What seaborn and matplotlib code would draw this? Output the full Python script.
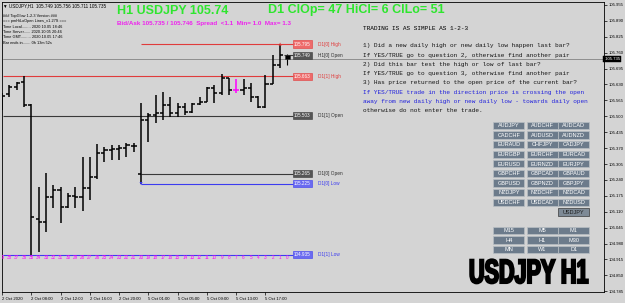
import numpy as np
import pandas as pd
import matplotlib
matplotlib.use("Agg")
import matplotlib.pyplot as plt
import seaborn as sns
from matplotlib.patches import Rectangle
from matplotlib.patheffects import AbstractPathEffect
from matplotlib.transforms import Affine2D

# ---------------- data ----------------
bar_index = list(range(39, -1, -1))
opens = [105.550, 105.591, 105.620, 105.640, 105.546, 105.080, 105.068, 105.170, 105.199, 105.129,
         105.174, 105.170, 105.207, 105.252, 105.350, 105.362, 105.366, 105.371, 105.379, 105.265,
         105.485, 105.505, 105.513, 105.546, 105.513, 105.538, 105.518, 105.550, 105.558, 105.616,
         105.595, 105.657, 105.608, 105.608, 105.616, 105.579, 105.538, 105.632, 105.710, 105.749]
highs = [105.595, 105.628, 105.640, 105.663, 105.550, 105.211, 105.268, 105.219, 105.211, 105.186,
         105.211, 105.334, 105.334, 105.387, 105.375, 105.383, 105.383, 105.391, 105.391, 105.554,
         105.513, 105.587, 105.599, 105.579, 105.554, 105.554, 105.554, 105.579, 105.620, 105.628,
         105.673, 105.657, 105.653, 105.653, 105.636, 105.583, 105.669, 105.751, 105.795, 105.756]
lows = [105.526, 105.579, 105.608, 105.538, 104.935, 104.945, 105.027, 105.125, 105.064, 105.125,
        105.125, 105.113, 105.158, 105.244, 105.313, 105.321, 105.321, 105.334, 105.354, 105.225,
        105.395, 105.473, 105.485, 105.497, 105.497, 105.505, 105.513, 105.546, 105.558, 105.554,
        105.587, 105.587, 105.595, 105.587, 105.558, 105.534, 105.534, 105.632, 105.697, 105.711]
closes = [105.583, 105.620, 105.636, 105.546, 105.088, 105.068, 105.170, 105.199, 105.129, 105.174,
          105.170, 105.207, 105.252, 105.350, 105.362, 105.366, 105.371, 105.383, 105.379, 105.485,
          105.505, 105.513, 105.546, 105.513, 105.538, 105.518, 105.550, 105.558, 105.616, 105.595,
          105.657, 105.608, 105.608, 105.616, 105.579, 105.538, 105.632, 105.710, 105.749, 105.735]
highlight_bar = 7

date_bars = [39, 35, 31, 27, 23, 19, 15, 11, 7, 3]
date_labels = ['2 Oct 2020', '2 Oct 08:00', '2 Oct 12:00', '2 Oct 16:00', '2 Oct 20:00',
               '5 Oct 01:00', '5 Oct 05:00', '5 Oct 09:00', '5 Oct 13:00', '5 Oct 17:00']

price_ticks = [105.955, 105.890, 105.825, 105.760, 105.695, 105.630, 105.565, 105.500, 105.435,
               105.370, 105.305, 105.240, 105.175, 105.110, 105.045, 104.980, 104.915, 104.850, 104.785]
bid_price = 105.735

level_names = ['D1[0] High', 'H1[0] Open', 'D1[1] High', 'D1[1] Open', 'D1[0] Open', 'D1[0] Low', 'D1[1] Low']
level_values = [105.795, 105.749, 105.663, 105.503, 105.265, 105.225, 104.935]
level_kinds = ['high', 'open', 'high', 'open', 'open', 'low', 'low']
level_start_bar = [20, 0, None, None, 20, 20, None]

header_line = '\u25bc USDJPY,H1  105.749 105.756 105.711 105.735'
info_lines = ['### TopGlow 1-2-3 Version ###',
              '=== pmHiLoOpen Lines_v1.27S ===',
              'Time Local........ 2020.10.05 18:46',
              'Time Server...... 2020.10.05 20:46',
              'Time GMT......... 2020.10.05 17:46',
              'Bar ends in....... 0h 13m 52s']
title_left = 'H1 USDJPY 105.74'
title_right = 'D1 ClOp= 47 HiCl= 6 ClLo= 51'
spread_line = 'Bid/Ask 105.735 / 105.746  Spread  <1.1  Min= 1.0  Max= 1.3'
rules_title = 'TRADING IS AS SIMPLE AS 1-2-3'
rules_lines = ['1) Did a new daily high or new daily low happen last bar?',
               'If YES/TRUE go to question 2, otherwise find another pair',
               '2) Did this bar test the high or low of last bar?',
               'If YES/TRUE go to question 3, otherwise find another pair',
               '3) Has price returned to the open price of the current bar?',
               'If YES/TRUE trade in the direction price is crossing the open',
               'away from new daily high or new daily low - towards daily open',
               'otherwise do not enter the trade.']
rules_blue = [False, False, False, False, False, True, True, False]

pair_buttons = [['AUDJPY', 'AUDCHF', 'AUDCAD'],
                ['CADCHF', 'AUDUSD', 'AUDNZD'],
                ['EURAUD', 'CHFJPY', 'CADJPY'],
                ['EURGBP', 'EURCHF', 'EURCAD'],
                ['EURUSD', 'EURNZD', 'EURJPY'],
                ['GBPCHF', 'GBPCAD', 'GBPAUD'],
                ['GBPUSD', 'GBPNZD', 'GBPJPY'],
                ['NZDJPY', 'NZDCHF', 'NZDCAD'],
                ['USDCHF', 'USDCAD', 'NZDUSD'],
                ['', '', 'USDJPY']]
tf_buttons = [['M15', 'M5', 'M1'], ['H4', 'H1', 'M30'], ['MN', 'W1', 'D1']]
big_label = 'USDJPY H1'

# ---------------- style ----------------
sns.set_theme(style='ticks')
plt.rcParams['font.family'] = ['Liberation Sans', 'DejaVu Sans']
BG = '#D4D4D4'
W, H = 625, 303

fig = plt.figure(figsize=(W / 100, H / 100), dpi=100, facecolor=BG)
# chart area: x 2..604 px, y 2..292 px
ax = fig.add_axes([2 / W, 1 - 292 / H, 602 / W, 290 / H])
ax.set_facecolor(BG)
BAR_PX = 7.33
x_left = (2 - 287) / BAR_PX
x_right = (604 - 287) / BAR_PX
ax.set_xlim(x_left, x_right)
ax.set_ylim(104.782, 105.967)

df = pd.DataFrame({'idx': bar_index, 'open': opens, 'high': highs, 'low': lows, 'close': closes})
df['u'] = -df['idx']

# current price line
sns.lineplot(x=[x_left, x_right], y=[bid_price, bid_price], ax=ax, color='#8E8E8E', lw=0.7, zorder=1)

# level lines
kind_line = {'high': '#E03C3C', 'open': '#3A3A3A', 'low': '#3C3CF0'}
kind_box = {'high': '#EE6A6A', 'open': '#555555', 'low': '#6A6AF0'}
kind_text = {'high': '#E03C3C', 'open': '#303030', 'low': '#3C3CF0'}
box_u = (293 - 287) / BAR_PX
name_u = (318 - 287) / BAR_PX
for name, val, kind, sb in zip(level_names, level_values, level_kinds, level_start_bar):
    start = x_left if sb is None else -sb - (0.5 if sb == 0 else 0)
    ax.hlines(val, start, box_u, color=kind_line[kind], lw=0.8, zorder=2)
    ax.text(box_u + 0.05, val, f'{val:.3f}', ha='left', va='center', fontsize=3.3, color='white',
            bbox=dict(boxstyle='square,pad=0.25', fc=kind_box[kind], ec=kind_line[kind], lw=0.4), zorder=5)
    ax.text(name_u, val, name, ha='left', va='center', fontsize=3.4, color=kind_text[kind], zorder=5)

# OHLC bars (all but current)
hist = df[df['idx'] > 0]
cols = ['#FF00FF' if i == highlight_bar else 'black' for i in hist['idx']]
tk = 0.42
ax.vlines(hist['u'], hist['low'], hist['high'], colors=cols, lw=1.1, zorder=3)
ax.hlines(hist['open'], hist['u'] - tk, hist['u'], colors=cols, lw=1.1, zorder=3)
ax.hlines(hist['close'], hist['u'], hist['u'] + tk, colors=cols, lw=1.1, zorder=3)
# current bar as candle
cur = df[df['idx'] == 0].iloc[0]
ax.vlines(cur['u'], cur['low'], cur['high'], colors='black', lw=0.8, zorder=3)
ax.bar(cur['u'], abs(cur['open'] - cur['close']), bottom=min(cur['open'], cur['close']),
       width=0.7, color='black', edgecolor='#333333', lw=0.4, zorder=4)

# day high / low markers
sns.scatterplot(x=[-1], y=[level_values[0]], marker='^', color='#E03C3C', s=5, ax=ax, zorder=6, edgecolor='none')
sns.scatterplot(x=[-20], y=[level_values[5]], marker='v', color='#3C3CF0', s=5, ax=ax, zorder=6, edgecolor='none')

# bar index labels
for i in bar_index:
    ax.text(-i, 104.925, str(i), ha='center', va='center', fontsize=3.3, color='#FF00FF', clip_on=True, zorder=5)

# axes, ticks
for s in ax.spines.values():
    s.set_color('black')
    s.set_linewidth(0.6)
ax.yaxis.tick_right()
ax.set_yticks(price_ticks)
ax.set_yticklabels([f'{v:.3f}' for v in price_ticks])
ax.tick_params(axis='y', length=2, width=0.5, pad=1.5, labelsize=3.1, colors='black')
ax.set_xticks([-b for b in date_bars])
ax.set_xticklabels(date_labels)
for lbl in ax.get_xticklabels():
    lbl.set_ha('left')
ax.tick_params(axis='x', length=2.5, width=0.5, pad=1.0, labelsize=3.1, colors='black')
ax.set_xlabel('')
ax.set_ylabel('')
ax.grid(False)
ax.text(1.0, bid_price, f' {bid_price:.3f}', transform=ax.get_yaxis_transform(), ha='left', va='center',
        fontsize=3.1, color='white', bbox=dict(boxstyle='square,pad=0.2', fc='black', ec='black', lw=0.3), zorder=7,
        clip_on=False)


def ftext(x, y, s, **kw):
    return fig.text(x / W, 1 - y / H, s, **kw)


# header / info text
ftext(3, 5.5, header_line, fontsize=3.3, color='black', va='center', family=['Liberation Sans', 'DejaVu Sans'])
for k, line in enumerate(info_lines):
    ftext(3, 15.7 + 5.45 * k, line, fontsize=2.8, color='black', va='center')

ftext(117, 10.5, title_left, fontsize=9, fontweight='bold', color='#2EE62E', va='center')
ftext(268, 10.5, title_right, fontsize=9, fontweight='bold', color='#2EE62E', va='center')
ftext(117, 24, spread_line, fontsize=4.5, fontweight='bold', color='#EE22EE', va='center')

ftext(363, 28, rules_title, fontsize=4.4, family='Liberation Mono', color='black', va='center')
for k, (line, blue) in enumerate(zip(rules_lines, rules_blue)):
    ftext(363, 45.7 + 9.31 * k, line, fontsize=4.4, family='Liberation Mono',
          color='#2222DD' if blue else '#151515', va='center')

# buttons
col_x = [493.3, 526.7, 558.3]
bw, bh = 31, 7.3


def button(x, y, label, fc='#6C7B8B', tc='white', ec='#B8BEC4'):
    fig.add_artist(Rectangle((x / W, 1 - (y + bh) / H), bw / W, bh / H, transform=fig.transFigure,
                             fc=fc, ec=ec, lw=0.5))
    ftext(x + bw / 2, y + bh / 2 + 0.2, label, fontsize=4.0, color=tc, ha='center', va='center')


for r, row in enumerate(pair_buttons):
    for c, lab in enumerate(row):
        if lab:
            if lab == 'USDJPY' and r == len(pair_buttons) - 1:
                button(col_x[c], 121.7 + 9.62 * r, lab, fc='#7E8A96', tc='#1E1E1E', ec='#3A3A3A')
            else:
                button(col_x[c], 121.7 + 9.62 * r, lab)
for r, row in enumerate(tf_buttons):
    for c, lab in enumerate(row):
        button(col_x[c], 226.7 + 9.65 * r, lab)


# big heavy label: drawn tall via a vertical stretch path effect
class Stretch(AbstractPathEffect):
    def __init__(self, sx, sy, x0, y0, lw):
        super().__init__()
        self.sx, self.sy, self.x0, self.y0, self.lw = sx, sy, x0, y0, lw

    def draw_path(self, renderer, gc, tpath, affine, rgbFace=None):
        aff = affine + Affine2D().translate(-self.x0, -self.y0).scale(self.sx, self.sy).translate(self.x0, self.y0)
        gc0 = renderer.new_gc()
        gc0.copy_properties(gc)
        gc0.set_linewidth(self.lw)
        gc0.set_foreground('black')
        gc0.set_joinstyle('miter')
        renderer.draw_path(gc0, tpath, aff, rgbFace)
        gc0.restore()


ftext(469, 283, big_label, fontsize=16, fontweight='bold', color='black', ha='left', va='baseline',
      path_effects=[Stretch(0.97, 1.52, 469, H - 283, 1.5)])

fig.savefig('out.png', dpi=100, facecolor=BG)
